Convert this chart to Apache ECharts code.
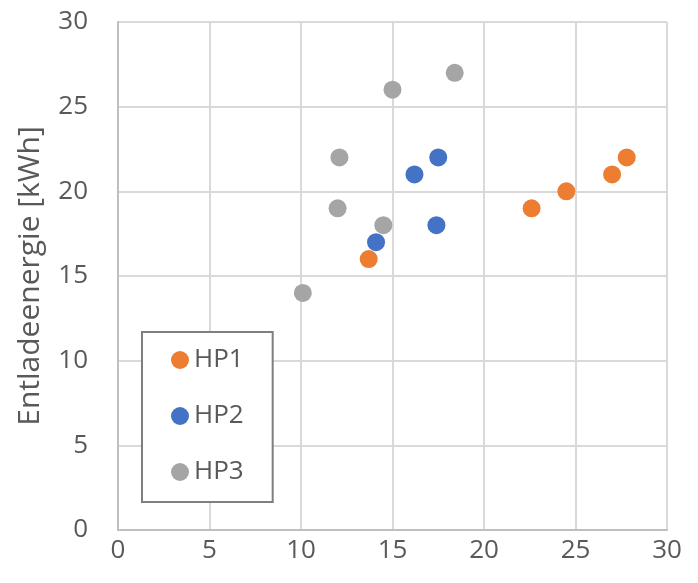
<!DOCTYPE html>
<html>
<head>
<meta charset="utf-8">
<script src="https://cdn.jsdelivr.net/npm/echarts@6/dist/echarts.min.js"></script>
<style>html,body{margin:0;padding:0;background:#fff;}#c{width:698px;height:583px;}</style>
</head>
<body>
<div id="c"></div>
<script>
const seriesNames = ['HP1', 'HP2', 'HP3'];
const hp1 = [[13.7, 16], [22.6, 19], [24.5, 20], [27.0, 21], [27.8, 22]];
const hp2 = [[14.1, 17], [16.2, 21], [17.5, 22], [17.4, 18]];
const hp3 = [[10.1, 14], [12.1, 22], [12.0, 19], [14.5, 18], [15.0, 26], [18.4, 27]];
const colors = ['#ED7D31', '#4472C4', '#A5A5A5'];
const yTitle = 'Entladeenergie [kWh]';

const font = 'Open Sans';
const chart = echarts.init(document.getElementById('c'), null, {renderer: 'canvas'});
const axisCommon = {
  min: 0, max: 30, interval: 5,
  axisLine: {show: true, lineStyle: {color: '#bfbfbf', width: 2}},
  axisTick: {show: false},
  splitLine: {show: true, lineStyle: {color: '#d9d9d9', width: 2}},
  axisLabel: {color: '#595959', fontFamily: font, fontSize: 26}
};
chart.setOption({
  animation: false,
  grid: {left: 118, right: 31, top: 22, bottom: 53},
  xAxis: Object.assign({type: 'value'}, axisCommon, {
    axisLabel: Object.assign({}, axisCommon.axisLabel, {margin: 8})
  }),
  yAxis: Object.assign({type: 'value'}, axisCommon, {
    axisLabel: Object.assign({}, axisCommon.axisLabel, {margin: 30}),
    name: yTitle,
    nameLocation: 'middle',
    nameGap: 73,
    nameTextStyle: {color: '#595959', fontFamily: font, fontSize: 30}
  }),
  legend: {
    orient: 'vertical',
    left: 142, top: 332,
    padding: [15, 29, 17, 29],
    borderColor: '#7f7f7f', borderWidth: 2,
    itemWidth: 18, itemHeight: 18, itemGap: 30, itemTextGap: 8,
    icon: 'circle',
    backgroundColor: '#fff',
    textStyle: {color: '#595959', fontFamily: font, fontSize: 26, lineHeight: 26},
    data: seriesNames
  },
  series: [hp1, hp2, hp3].map((d, i) => ({
    type: 'scatter', name: seriesNames[i], data: d,
    symbol: 'circle', symbolSize: 18,
    itemStyle: {color: colors[i], opacity: 1}
  }))
});
</script>
</body>
</html>
